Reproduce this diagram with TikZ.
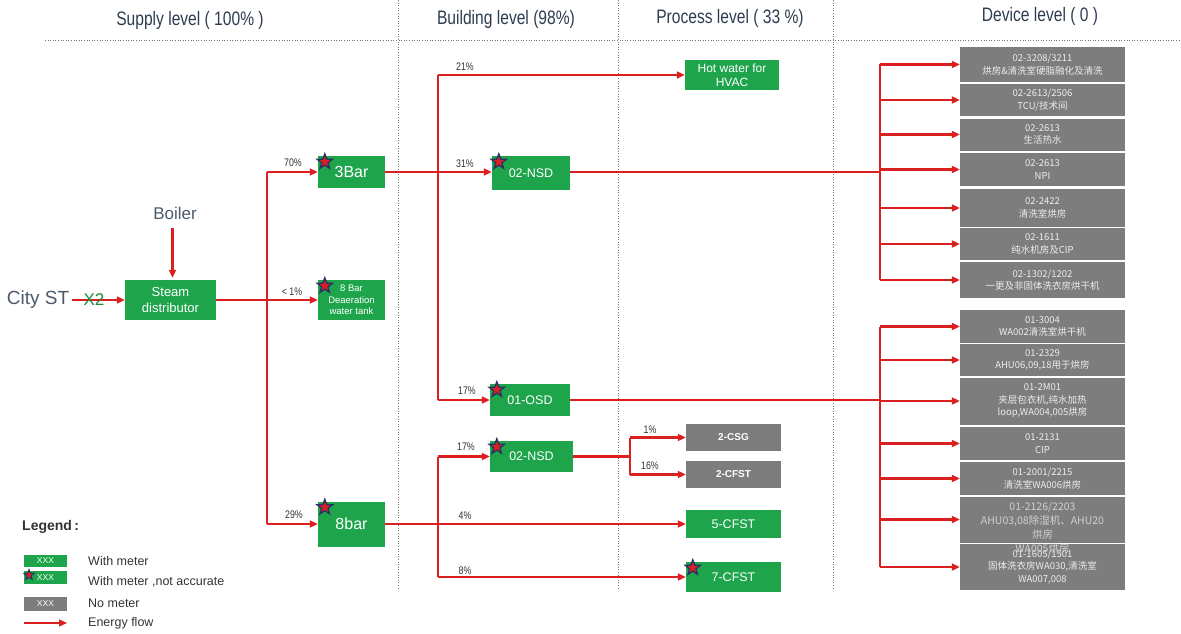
\documentclass[tikz,border=0pt]{standalone}
\usepackage{fontspec}
\setmainfont{Liberation Sans}
\newfontfamily\cjk{Noto Sans CJK SC}
\newfontfamily\narrow[FakeStretch=0.8]{Liberation Sans}
\usetikzlibrary{arrows.meta,shapes.geometric}
\definecolor{mgreen}{RGB}{30,165,75}
\definecolor{mgray}{RGB}{125,125,125}
\definecolor{fred}{RGB}{218,32,32}
\definecolor{hdr}{RGB}{45,60,80}
\definecolor{navy}{RGB}{40,50,100}
\newcommand{\fsz}[1]{\fontsize{#1}{\dimexpr #1pt*6/5\relax}\selectfont}
\tikzset{
  gbox/.style={fill=mgreen, text=white, inner sep=0pt, align=center, font=\fsz{12.5}},
  dbox/.style={fill=mgray, text=white!93!black, inner sep=0pt, align=center, minimum width=165pt, font=\cjk\fontsize{9.5}{12.5}\selectfont},
  pbox/.style={fill=mgray, text=white, inner sep=0pt, align=center, font=\bfseries\fontsize{10}{11}\selectfont},
  flow/.style={draw=fred, line width=2.2pt, -{Triangle[length=8pt,width=7pt]}},
  fline/.style={draw=fred, line width=2.2pt},
  pct/.style={font=\narrow\fontsize{11}{12}\selectfont, text=black!80, inner sep=0pt},
  hdrtext/.style={font=\narrow\fontsize{19.5}{22}\selectfont, text=hdr},
  sep/.style={draw=black!55, line width=0.8pt, dash pattern=on 1pt off 1.6pt},
  mstar/.style={star, star points=5, star point ratio=2.4, minimum size=16pt, inner sep=0pt, fill=fred, draw=navy, line width=1.3pt},
  legtext/.style={anchor=west, font=\fsz{12.5}, text=black!80, inner sep=0pt}
}
\begin{document}
\begin{tikzpicture}[x=1pt,y=-1pt]
\useasboundingbox (0,0) rectangle (1181,634);
% header
\node[hdrtext] (h1) at (190,20) {Supply level ( 100\% )};
\node[hdrtext] (h2) at (506,19) {Building level (98\%)};
\node[hdrtext] (h3) at (730,18) {Process level ( 33 \%)};
\node[hdrtext] (h4) at (1040,16) {Device level ( 0 )};
\draw[sep] (45,40) -- (1181,40);
\draw[sep] (398,0) -- (398,590);
\draw[sep] (618,0) -- (618,590);
\draw[sep] (833,0) -- (833,590);

% supply level
\node[font=\fsz{19}, text=hdr!85, inner sep=0pt] (city) at (38,300) {City ST};
\node[font=\fsz{17}, text=hdr!85, inner sep=0pt] (boiler) at (175,213) {Boiler};
\node[gbox, minimum width=91pt, minimum height=40pt, font=\fsz{13}] (dist) at (170.5,300) {Steam\\distributor};
\draw[flow] (city.east) ++(3,0) -- (dist.west);
\node[font=\fsz{17}, text=mgreen!85!black, inner sep=0pt] (x2) at (94,300) {X2};
\draw[flow] (dist.north) ++(2,-52) -- ++(0,50);

\node[gbox, minimum width=67pt, minimum height=32pt, font=\fsz{16}] (b3) at (351.5,172) {3Bar};
\node[gbox, minimum width=67pt, minimum height=40pt, font=\fontsize{9.5}{11.5}\selectfont] (b8d) at (351.5,300) {8 Bar\\Deaeration\\water tank};
\node[gbox, minimum width=67pt, minimum height=45pt, font=\fsz{16}] (b8) at (351.5,524) {8bar};

\coordinate (t) at (267,300);
\draw[fline] (t |- b3) -- (t |- b8);
\draw[flow] (dist.east) -- (b8d.west);
\draw[flow] (t |- b3) -- (b3.west);
\draw[flow] (t |- b8) -- (b8.west);
\node[pct] (p70) at (293,163) {70\%};
\node[pct] (p1) at (292,292) {< 1\%};
\node[pct] (p29) at (294,515) {29\%};

% building level
\node[gbox, minimum width=94pt, minimum height=30pt, font=\fsz{12}] (hot) at (732,75) {Hot water for\\HVAC};
\node[gbox, minimum width=78pt, minimum height=34pt] (nsd1) at (531,173) {02-NSD};
\node[gbox, minimum width=80pt, minimum height=32pt] (osd) at (530,400) {01-OSD};
\node[gbox, minimum width=83pt, minimum height=31pt] (nsd2) at (531.5,456.5) {02-NSD};

\coordinate (u) at (438,172);
\draw[fline] (b3.east) -- (u);
\draw[fline] (u |- hot.west) -- (u |- osd.west);
\draw[flow] (u |- hot.west) -- (hot.west);
\draw[flow] (u) -- (u -| nsd1.west);
\draw[flow] (u |- osd.west) -- (osd.west);
\node[pct] (p21) at (465,67) {21\%};
\node[pct] (p31) at (465,164) {31\%};
\node[pct] (p17a) at (467,391) {17\%};

\node[pct] (p17b) at (466,447) {17\%};
\node[pct] (p4) at (465,516) {4\%};
\node[pct] (p8) at (465,571) {8\%};

% process level
\node[pbox, minimum width=95pt, minimum height=27pt] (csg) at (733.5,437.5) {2-CSG};
\node[pbox, minimum width=95pt, minimum height=27pt] (cfst2) at (733.5,474.5) {2-CFST};
\node[gbox, minimum width=95pt, minimum height=28pt] (cfst5) at (733.5,524) {5-CFST};
\node[gbox, minimum width=95pt, minimum height=30pt] (cfst7) at (733.5,577) {7-CFST};

\coordinate (v) at (438,524);
\draw[fline] (b8.east) -- (v);
\draw[fline] (v |- nsd2.west) -- (v |- cfst7.west);
\draw[flow] (v |- nsd2.west) -- (nsd2.west);
\draw[flow] (v) -- (cfst5.west |- v);
\draw[flow] (v |- cfst7.west) -- (cfst7.west);

\coordinate (w) at (630,456.5);
\draw[fline] (nsd2.east) -- (w);
\draw[fline] (w |- csg.west) -- (w |- cfst2.west);
\draw[flow] (w |- csg.west) -- (csg.west);
\draw[flow] (w |- cfst2.west) -- (cfst2.west);
\node[pct] (p1b) at (650,430) {1\%};
\node[pct] (p16) at (650,466) {16\%};

% device level, upper
\node[dbox, minimum height=35pt] (d1) at (1042.5,64.5) {02-3208/3211\\烘房\&清洗室硬脂融化及清洗};
\node[dbox, minimum height=32pt] (d2) at (1042.5,100) {02-2613/2506\\TCU/技术间};
\node[dbox, minimum height=32pt] (d3) at (1042.5,134.5) {02-2613\\生活热水};
\node[dbox, minimum height=33pt] (d4) at (1042.5,169.5) {02-2613\\NPI};
\node[dbox, minimum height=38pt] (d5) at (1042.5,208) {02-2422\\清洗室烘房};
\node[dbox, minimum height=32pt] (d6) at (1042.5,244) {02-1611\\纯水机房及CIP};
\node[dbox, minimum height=36pt] (d7) at (1042.5,280) {02-1302/1202\\一更及非固体洗衣房烘干机};

\coordinate (bus1) at (880,172);
\draw[fline] (nsd1.east |- bus1) -- (bus1);
\draw[fline] (bus1 |- d1.west) -- (bus1 |- d7.west);
\foreach \n in {d1,d2,d3,d4,d5,d6,d7}
  \draw[flow] (bus1 |- \n.west) -- (\n.west);

% device level, lower
\node[dbox, minimum height=33pt] (e1) at (1042.5,326.5) {01-3004\\WA002清洗室烘干机};
\node[dbox, minimum height=32pt] (e2) at (1042.5,360) {01-2329\\AHU06,09,18用于烘房};
\node[dbox, minimum height=47pt] (e3) at (1042.5,401) {01-2M01\\夹层包衣机,纯水加热\\loop,WA004,005烘房};
\node[dbox, minimum height=33pt] (e4) at (1042.5,443.5) {01-2131\\CIP};
\node[dbox, minimum height=33pt] (e5) at (1042.5,478.5) {01-2001/2215\\清洗室WA006烘房};
\node[dbox, minimum height=46pt] (e6) at (1042.5,519.5) {};
\node[dbox, minimum height=46pt] (e7) at (1042.5,567) {01-1605/1501\\固体洗衣房WA030,清洗室\\WA007,008};
\node[font=\cjk\fontsize{10.5}{14}\selectfont, text=white!82!black, align=center, inner sep=0pt] (e6t) at (1042.5,528) {01-2126/2203\\AHU03,08除湿机、AHU20\\烘房\\WA005烘房};

\coordinate (bus2) at (880,400);
\draw[fline] (osd.east) -- (bus2);
\draw[fline] (bus2 |- e1.west) -- (bus2 |- e7.west);
\foreach \n in {e1,e2,e3,e4,e5,e6,e7}
  \draw[flow] (bus2 |- \n.west) -- (\n.west);

% stars (with meter, not accurate)
\foreach \n in {b3,b8d,b8,nsd1,osd,nsd2,cfst7}
  \node[mstar] at ([shift={(7,6)}]\n.north west) {};

% legend
\node[anchor=west, font=\bfseries\fsz{14}, text=black!80, inner sep=0pt] (leg) at (22,527) {Legend\,:};
\node[gbox, minimum width=43pt, minimum height=12pt, font=\fontsize{8.5}{9}\selectfont] (l1) at (45.5,561) {XXX};
\node[gbox, minimum width=43pt, minimum height=13pt, font=\fontsize{8.5}{9}\selectfont] (l2) at (45.5,577.5) {XXX};
\node[mstar, minimum size=11pt, line width=0.9pt] at (29,575) {};
\node[pbox, minimum width=43pt, minimum height=14pt, font=\fontsize{8.5}{9}\selectfont\mdseries] (l3) at (45.5,604) {XXX};
\coordinate (la) at (24,623);
\coordinate (lb) at (67,623);
\draw[flow, line width=1.4pt] (la) -- (lb);
\node[legtext] (t1) at (88,561) {With meter};
\node[legtext] (t2) at (88,582) {With meter ,not accurate};
\node[legtext] (t3) at (88,603) {No meter};
\node[legtext] (t4) at (88,623) {Energy flow};
\end{tikzpicture}
\end{document}
